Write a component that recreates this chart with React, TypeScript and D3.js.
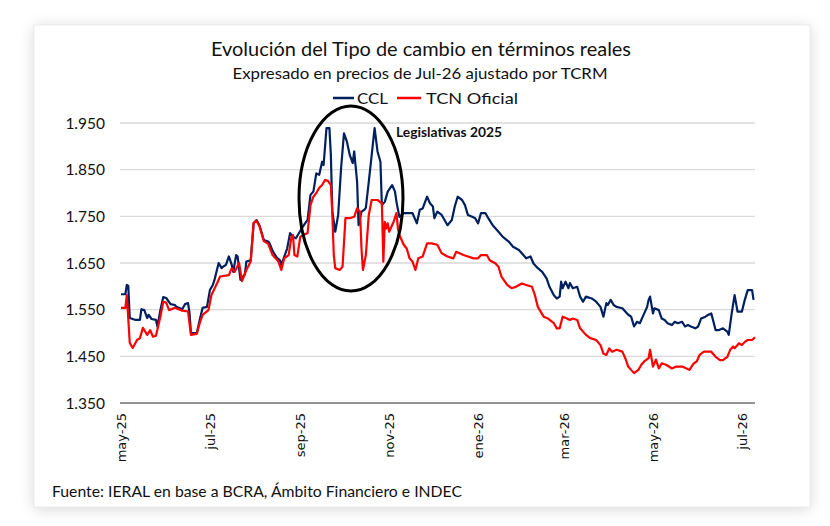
import * as d3 from 'd3';

const cclSeries: [string, number][] = [
  ["2025-05-01",1583],["2025-05-04",1583],["2025-05-05",1603],["2025-05-06",1601],["2025-05-07",1532],["2025-05-11",1528],["2025-05-14",1528],["2025-05-15",1551],["2025-05-17",1549],["2025-05-19",1532],["2025-05-20",1539],["2025-05-22",1530],["2025-05-25",1528],["2025-05-26",1514],["2025-05-28",1549],["2025-05-30",1577],
  ["2025-06-01",1575],["2025-06-04",1562],["2025-06-07",1560],["2025-06-08",1556],["2025-06-12",1551],["2025-06-14",1562],["2025-06-16",1564],["2025-06-17",1543],["2025-06-18",1500],["2025-06-22",1500],["2025-06-24",1528],["2025-06-26",1554],["2025-06-29",1556],
  ["2025-07-01",1592],["2025-07-03",1603],["2025-07-04",1612],["2025-07-07",1650],["2025-07-09",1639],["2025-07-10",1642],["2025-07-12",1646],["2025-07-14",1664],["2025-07-16",1646],["2025-07-17",1631],["2025-07-19",1667],["2025-07-20",1664],["2025-07-22",1614],["2025-07-25",1626],["2025-07-26",1653],["2025-07-29",1656],["2025-07-31",1735],
  ["2025-08-02",1742],["2025-08-04",1731],["2025-08-07",1699],["2025-08-10",1696],["2025-08-11",1692],["2025-08-13",1676],["2025-08-16",1661],["2025-08-18",1656],["2025-08-19",1646],["2025-08-23",1681],["2025-08-25",1714],["2025-08-27",1706],["2025-08-29",1703],
  ["2025-09-02",1724],["2025-09-05",1738],["2025-09-06",1742],["2025-09-08",1796],["2025-09-10",1803],["2025-09-12",1842],["2025-09-14",1839],["2025-09-16",1867],["2025-09-17",1860],["2025-09-19",1939],["2025-09-21",1939],["2025-09-22",1881],["2025-09-23",1760],["2025-09-25",1717],["2025-09-27",1753],["2025-09-29",1853],
  ["2025-10-01",1928],["2025-10-03",1910],["2025-10-05",1881],["2025-10-07",1864],["2025-10-08",1889],["2025-10-10",1824],["2025-10-11",1731],["2025-10-13",1760],["2025-10-15",1764],["2025-10-16",1768],["2025-10-18",1824],["2025-10-20",1881],["2025-10-22",1939],["2025-10-24",1889],["2025-10-26",1867],["2025-10-27",1774],["2025-10-29",1781],["2025-10-31",1803],
  ["2025-11-03",1817],["2025-11-05",1803],["2025-11-06",1781],["2025-11-08",1749],["2025-11-11",1757],["2025-11-13",1757],["2025-11-17",1757],["2025-11-20",1735],["2025-11-22",1764],["2025-11-24",1767],["2025-11-27",1792],["2025-11-29",1778],
  ["2025-12-01",1771],["2025-12-02",1746],["2025-12-04",1760],["2025-12-07",1753],["2025-12-09",1742],["2025-12-11",1731],["2025-12-14",1742],["2025-12-16",1771],["2025-12-18",1792],["2025-12-21",1785],["2025-12-23",1774],["2025-12-25",1753],["2025-12-28",1749],["2025-12-30",1746],
  ["2026-01-01",1735],["2026-01-03",1757],["2026-01-06",1757],["2026-01-08",1746],["2026-01-11",1731],["2026-01-15",1717],["2026-01-18",1706],["2026-01-22",1696],["2026-01-25",1685],["2026-01-29",1678],["2026-01-31",1671],
  ["2026-02-03",1660],["2026-02-06",1664],["2026-02-08",1649],["2026-02-11",1639],["2026-02-14",1631],["2026-02-17",1617],["2026-02-19",1599],["2026-02-22",1581],["2026-02-24",1574],["2026-02-26",1578],["2026-02-27",1610],["2026-02-28",1596],
  ["2026-03-02",1610],["2026-03-04",1596],["2026-03-05",1607],["2026-03-07",1596],["2026-03-10",1599],["2026-03-12",1578],["2026-03-14",1567],["2026-03-16",1578],["2026-03-20",1574],["2026-03-23",1567],["2026-03-26",1556],["2026-03-28",1535],["2026-03-30",1564],["2026-03-31",1560],
  ["2026-04-02",1571],["2026-04-04",1560],["2026-04-06",1556],["2026-04-10",1553],["2026-04-12",1546],["2026-04-14",1539],["2026-04-16",1535],["2026-04-18",1514],["2026-04-20",1524],["2026-04-22",1521],["2026-04-24",1535],["2026-04-27",1556],["2026-04-28",1571],["2026-04-29",1578],
  ["2026-05-01",1542],["2026-05-02",1553],["2026-05-05",1549],["2026-05-07",1531],["2026-05-09",1528],["2026-05-11",1521],["2026-05-14",1517],["2026-05-16",1524],["2026-05-18",1521],["2026-05-21",1524],["2026-05-23",1514],["2026-05-25",1517],["2026-05-27",1514],["2026-05-30",1510],
  ["2026-06-01",1514],["2026-06-03",1531],["2026-06-06",1535],["2026-06-08",1539],["2026-06-10",1542],["2026-06-13",1506],["2026-06-15",1506],["2026-06-18",1510],["2026-06-21",1503],["2026-06-22",1496],["2026-06-24",1542],["2026-06-26",1581],["2026-06-27",1564],["2026-06-28",1546],
  ["2026-07-01",1546],["2026-07-03",1571],["2026-07-05",1592],["2026-07-08",1592],["2026-07-09",1571],
];

const tcnSeries: [string, number][] = [
  ["2025-05-01",1554],["2025-05-04",1554],["2025-05-05",1581],["2025-05-07",1479],["2025-05-09",1468],["2025-05-12",1485],["2025-05-14",1489],["2025-05-16",1511],["2025-05-19",1496],["2025-05-21",1506],["2025-05-23",1492],["2025-05-25",1494],["2025-05-28",1535],["2025-05-30",1567],
  ["2025-06-01",1565],["2025-06-03",1549],["2025-06-07",1554],["2025-06-12",1548],["2025-06-16",1546],["2025-06-18",1496],["2025-06-22",1498],["2025-06-24",1521],["2025-06-26",1539],["2025-06-30",1549],
  ["2025-07-02",1581],["2025-07-06",1607],["2025-07-08",1621],["2025-07-14",1624],["2025-07-16",1639],["2025-07-18",1631],["2025-07-21",1650],["2025-07-23",1611],["2025-07-26",1635],["2025-07-29",1653],["2025-07-31",1736],
  ["2025-08-02",1740],["2025-08-04",1729],["2025-08-07",1697],["2025-08-10",1691],["2025-08-13",1667],["2025-08-17",1653],["2025-08-19",1635],["2025-08-21",1660],["2025-08-24",1667],["2025-08-26",1706],["2025-08-27",1710],["2025-08-28",1667],["2025-08-30",1664],
  ["2025-09-01",1706],["2025-09-03",1710],["2025-09-06",1714],["2025-09-08",1774],["2025-09-10",1792],["2025-09-12",1800],["2025-09-14",1811],["2025-09-16",1817],["2025-09-18",1828],["2025-09-20",1826],["2025-09-22",1817],["2025-09-23",1753],["2025-09-24",1667],["2025-09-25",1639],["2025-09-28",1635],["2025-09-30",1642],
  ["2025-10-02",1746],["2025-10-05",1746],["2025-10-08",1749],["2025-10-10",1767],["2025-10-12",1760],["2025-10-13",1681],["2025-10-14",1635],["2025-10-16",1667],["2025-10-18",1753],["2025-10-20",1785],["2025-10-22",1785],["2025-10-24",1785],["2025-10-27",1778],["2025-10-28",1653],["2025-10-29",1738],["2025-10-30",1724],["2025-10-31",1735],
  ["2025-11-01",1717],["2025-11-04",1738],["2025-11-06",1757],["2025-11-07",1724],["2025-11-08",1710],["2025-11-11",1689],["2025-11-13",1681],["2025-11-15",1660],["2025-11-17",1653],["2025-11-19",1635],["2025-11-21",1660],["2025-11-24",1664],["2025-11-27",1692],["2025-11-30",1692],
  ["2025-12-04",1689],["2025-12-07",1671],["2025-12-11",1664],["2025-12-15",1660],["2025-12-17",1674],["2025-12-22",1667],["2025-12-25",1664],["2025-12-29",1660],
  ["2026-01-01",1660],["2026-01-03",1667],["2026-01-07",1667],["2026-01-09",1656],["2026-01-13",1649],["2026-01-15",1642],["2026-01-17",1621],["2026-01-21",1603],["2026-01-24",1596],["2026-01-27",1599],["2026-01-31",1606],
  ["2026-02-03",1603],["2026-02-07",1599],["2026-02-09",1581],["2026-02-11",1556],["2026-02-15",1535],["2026-02-18",1531],["2026-02-22",1521],["2026-02-24",1510],["2026-02-26",1510],["2026-02-28",1535],
  ["2026-03-03",1531],["2026-03-05",1528],["2026-03-07",1531],["2026-03-10",1528],["2026-03-12",1510],["2026-03-16",1496],["2026-03-19",1489],["2026-03-23",1485],["2026-03-26",1474],["2026-03-28",1456],["2026-03-30",1453],
  ["2026-04-01",1467],["2026-04-03",1460],["2026-04-06",1464],["2026-04-10",1460],["2026-04-12",1446],["2026-04-14",1428],["2026-04-16",1421],["2026-04-18",1414],["2026-04-21",1421],["2026-04-23",1432],["2026-04-25",1439],["2026-04-28",1446],["2026-04-29",1464],
  ["2026-05-01",1428],["2026-05-03",1443],["2026-05-05",1424],["2026-05-07",1435],["2026-05-10",1432],["2026-05-14",1424],["2026-05-17",1428],["2026-05-21",1428],["2026-05-24",1424],["2026-05-26",1421],["2026-05-29",1435],["2026-05-31",1439],
  ["2026-06-02",1453],["2026-06-05",1460],["2026-06-08",1460],["2026-06-10",1460],["2026-06-13",1449],["2026-06-16",1442],["2026-06-18",1442],["2026-06-21",1449],["2026-06-23",1464],["2026-06-25",1471],["2026-06-26",1467],["2026-06-29",1478],
  ["2026-07-01",1474],["2026-07-03",1481],["2026-07-05",1485],["2026-07-08",1485],["2026-07-10",1491],
];

const yTicks = [1350, 1450, 1550, 1650, 1750, 1850, 1950];
const xTickDates = ["2025-05-01", "2025-07-01", "2025-09-01", "2025-11-01", "2026-01-01", "2026-03-01", "2026-05-01", "2026-07-01"];
const xTickLabels = ["may-25", "jul-25", "sep-25", "nov-25", "ene-26", "mar-26", "may-26", "jul-26"];
const seriesNames = ["CCL", "TCN Oficial"];
const seriesColors = ["#002060", "#ff0000"];

const W = 830;
const H = 526;
const plot = { left: 121, right: 755, top: 123, bottom: 403 };
const sans = 'Lato, "Open Sans", sans-serif';

const parse = d3.timeParse('%Y-%m-%d');
const esFormat = d3.formatLocale({ decimal: ',', thousands: '.', grouping: [3], currency: ['$', ''] }).format(',.0f');

export default function App() {
  const x = d3.scaleTime()
    .domain([parse('2025-05-01')!, parse('2026-07-10')!])
    .range([plot.left, plot.right]);
  const y = d3.scaleLinear().domain([1350, 1950]).range([plot.bottom, plot.top]);

  const line = d3.line<[string, number]>()
    .x(d => x(parse(d[0])!))
    .y(d => y(d[1]));

  const series = [cclSeries, tcnSeries];

  return (
    <svg width={W} height={H} style={{ position: 'absolute', left: 0, top: 0, background: '#fff' }}>
      <defs>
        <filter id="shadow" x="-10%" y="-10%" width="120%" height="120%">
          <feGaussianBlur stdDeviation="8" />
        </filter>
      </defs>
      <rect x={34} y={27} width={776} height={482} fill="#000" opacity={0.16} filter="url(#shadow)" />
      <rect x={34} y={25} width={776} height={482} fill="#fff" stroke="#ececec" />

      <text x={421} y={56} textAnchor="middle" fontFamily={sans} fontSize={19.5} fill="#111"
        textLength={420} lengthAdjust="spacingAndGlyphs">
        Evolución del Tipo de cambio en términos reales
      </text>
      <text x={420} y={79} textAnchor="middle" fontFamily={sans} fontSize={16} fill="#111"
        textLength={375} lengthAdjust="spacingAndGlyphs">
        Expresado en precios de Jul-26 ajustado por TCRM
      </text>

      {/* legend */}
      <g fontFamily={sans} fontSize={15} fill="#111">
        <line x1={333} x2={354} y1={98} y2={98} stroke={seriesColors[0]} strokeWidth={2.5} />
        <text x={357} y={104} textLength={31} lengthAdjust="spacingAndGlyphs">{seriesNames[0]}</text>
        <line x1={397} x2={421} y1={98} y2={98} stroke={seriesColors[1]} strokeWidth={2.5} />
        <text x={426} y={104} textLength={92} lengthAdjust="spacingAndGlyphs">{seriesNames[1]}</text>
      </g>

      {/* grid + y axis */}
      {yTicks.map(t => (
        <g key={t}>
          <line x1={plot.left - 1} x2={plot.right} y1={y(t)} y2={y(t)}
            stroke={t === 1350 ? '#6f6f6f' : '#d9d9d9'} strokeWidth={t === 1350 ? 1.5 : 1.3} />
          <text x={105} y={y(t)} dy="0.36em" textAnchor="end" fontFamily={sans} fontSize={15.5} fill="#111">
            {esFormat(t)}
          </text>
        </g>
      ))}

      {/* x axis labels */}
      {xTickDates.map((d, i) => {
        const px = x(parse(d)!);
        return (
          <text key={d} transform={`translate(${px},413) rotate(-90)`} dy="0.36em" textAnchor="end"
            fontFamily='"DejaVu Sans", Verdana, sans-serif' fontSize={13} fill="#111">
            {xTickLabels[i]}
          </text>
        );
      })}

      {/* series */}
      {series.map((s, i) => (
        <path key={i} d={line(s) ?? ''} fill="none" stroke={seriesColors[i]} strokeWidth={2.2}
          strokeLinejoin="round" />
      ))}

      {/* annotation */}
      <ellipse cx={351} cy={198.5} rx={52} ry={92.5} fill="none" stroke="#000" strokeWidth={3} />
      <text x={396} y={137} fontFamily={sans} fontSize={12.5} fontWeight="bold" fill="#111"
        textLength={106} lengthAdjust="spacingAndGlyphs">
        Legislativas  2025
      </text>

      <text x={52} y={497} fontFamily={sans} fontSize={16} fill="#111"
        textLength={410} lengthAdjust="spacingAndGlyphs">
        Fuente: IERAL en base a BCRA, Ámbito Financiero e INDEC
      </text>
    </svg>
  );
}
